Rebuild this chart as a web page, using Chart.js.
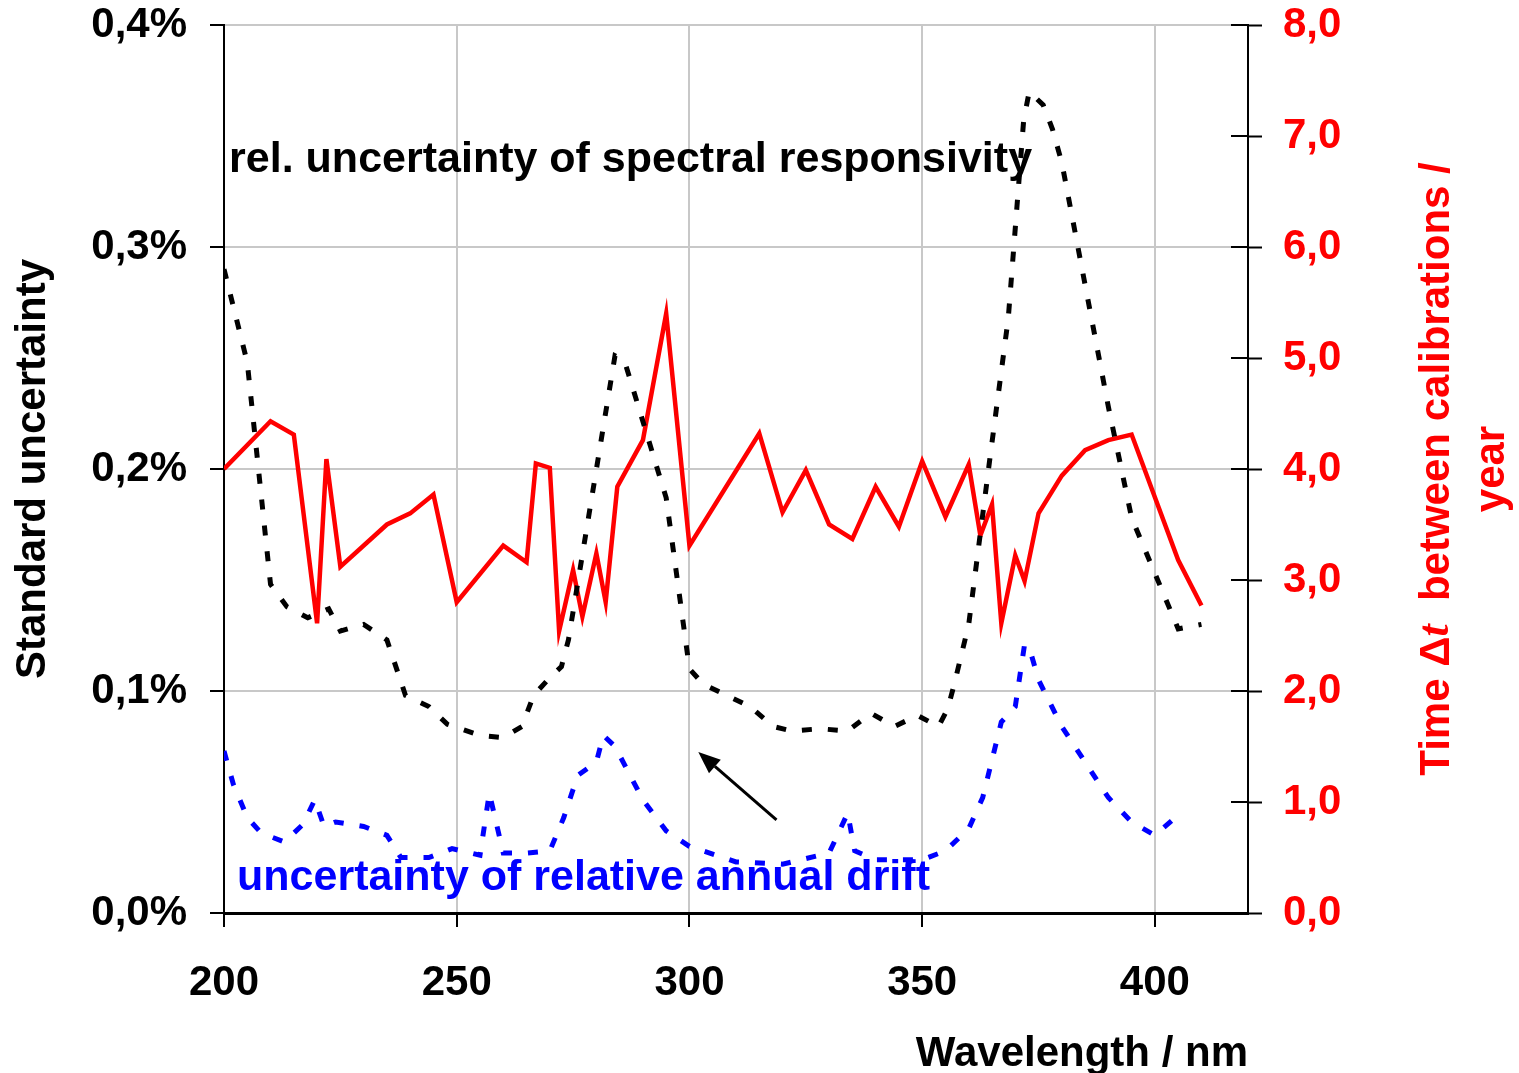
<!DOCTYPE html>
<html>
<head>
<meta charset="utf-8">
<script src="https://cdn.jsdelivr.net/npm/chart.js@4.4.0/dist/chart.umd.min.js"></script>
<style>
  html, body { margin: 0; padding: 0; background: #fff; }
  #wrap { width: 1519px; height: 1073px; }
</style>
</head>
<body>
<div id="wrap"><canvas id="chart" width="1519" height="1073"></canvas></div>
<script>
// rel. uncertainty of spectral responsivity (%)
const wlResp = [200, 205, 210, 213.5, 218, 222.5, 225, 230, 235, 239, 244, 248, 255, 260, 264, 266.5, 270, 272.5, 274,
    284, 286, 295, 300, 303, 308, 313, 318, 322, 328, 334, 339, 344, 349, 353.5, 355.5, 357, 360, 364.5, 368.5, 371.8,
    373, 376, 378, 380, 390, 395, 405, 410];
const respUnc = [0.290, 0.248, 0.148, 0.138, 0.133, 0.137, 0.127, 0.130, 0.123, 0.098, 0.093, 0.085, 0.080, 0.079, 0.084, 0.098, 0.106, 0.111, 0.123,
    0.251, 0.249, 0.187, 0.110, 0.103, 0.098, 0.093, 0.084, 0.082, 0.083, 0.082, 0.090, 0.084, 0.089, 0.084, 0.092, 0.104, 0.130, 0.204, 0.268, 0.357,
    0.370, 0.364, 0.353, 0.338, 0.228, 0.178, 0.128, 0.130];

// uncertainty of relative annual drift (%)
const wlDrift = [200, 202, 205, 208, 213, 217, 219.5, 221.5, 224, 230, 235, 238, 244, 249, 255, 257, 260, 265, 270, 273,
    276, 280, 281.5, 284, 290, 295, 300, 310, 320, 330, 334, 335.5, 340, 350, 355, 360, 363, 367, 370, 372, 373.5, 375,
    380, 390, 395, 400, 406];
const driftUnc = [0.073, 0.058, 0.043, 0.036, 0.032, 0.040, 0.051, 0.039, 0.041, 0.039, 0.035, 0.025, 0.025, 0.029, 0.026, 0.054, 0.027, 0.027, 0.028, 0.043,
    0.062, 0.068, 0.080, 0.075, 0.051, 0.037, 0.030, 0.023, 0.022, 0.027, 0.045, 0.028, 0.024, 0.024, 0.028, 0.038, 0.052, 0.086, 0.093, 0.121, 0.116, 0.105,
    0.084, 0.052, 0.041, 0.035, 0.046];

// time between calibrations (years)
const wlTime = [200, 210, 215, 220, 222, 225, 235, 240, 245, 250, 260, 265, 267, 270, 272, 275, 277, 280, 282, 284.5,
    290, 295, 300, 315, 320, 325, 330, 335, 340, 345, 350, 355, 360, 362.5, 365, 367, 370, 372, 375, 380, 385, 390, 395, 405, 410];
const timeYears = [4.00, 4.43, 4.31, 2.61, 4.09, 3.12, 3.50, 3.60, 3.77, 2.80, 3.31, 3.16, 4.05, 4.01, 2.54, 3.09, 2.67, 3.24, 2.80, 3.84,
    4.26, 5.40, 3.31, 4.32, 3.61, 3.99, 3.50, 3.37, 3.84, 3.48, 4.07, 3.57, 4.04, 3.40, 3.68, 2.61, 3.22, 2.99, 3.60, 3.94, 4.17, 4.26, 4.31, 3.18, 2.77];

const xTicks = [200, 250, 300, 350, 400];
const uncTicks = [0, 0.1, 0.2, 0.3, 0.4];
const timeTicks = [0, 1, 2, 3, 4, 5, 6, 7, 8];

const respLabel = 'rel. uncertainty of spectral responsivity';
const driftLabel = 'uncertainty of relative annual drift';

const FONT = '"Liberation Sans", Arial, sans-serif';
const RED = '#ff0000';
const BLUE = '#0000ff';

const toPoints = (xs, ys) => xs.map((x, i) => ({ x, y: ys[i] }));
const comma = (v, d) => v.toFixed(d).replace('.', ',');

const overlay = {
    id: 'overlay',
    beforeDraw(chart) {
        const { ctx } = chart;
        ctx.save();
        ctx.fillStyle = '#fff';
        ctx.fillRect(0, 0, chart.width, chart.height);
        ctx.restore();
    },
    afterDatasetsDraw(chart) {
        const { ctx, chartArea, scales } = chart;
        const x = scales.x, y = scales.y, y2 = scales.y2;
        ctx.save();

        // inner half of the right axis tick marks
        ctx.strokeStyle = '#000';
        ctx.lineWidth = 2;
        timeTicks.forEach(v => {
            const py = y2.getPixelForValue(v);
            ctx.beginPath();
            ctx.moveTo(chartArea.right - 17, py);
            ctx.lineTo(chartArea.right, py);
            ctx.stroke();
        });

        // curve labels
        ctx.font = 'bold 43px ' + FONT;
        ctx.textBaseline = 'middle';
        ctx.textAlign = 'left';
        ctx.fillStyle = '#000';
        ctx.fillText(respLabel, x.getPixelForValue(201.1), y.getPixelForValue(0.339));
        ctx.fillStyle = BLUE;
        ctx.fillText(driftLabel, x.getPixelForValue(202.8), y.getPixelForValue(0.0158));

        // arrow
        const x0 = x.getPixelForValue(318.7), y0 = y.getPixelForValue(0.0419);
        const x1 = x.getPixelForValue(301.9), y1 = y.getPixelForValue(0.0725);
        const ang = Math.atan2(y1 - y0, x1 - x0);
        const len = 22, half = 9;
        const bx = x1 - len * Math.cos(ang), by = y1 - len * Math.sin(ang);
        ctx.strokeStyle = '#000';
        ctx.lineWidth = 3;
        ctx.beginPath();
        ctx.moveTo(x0, y0);
        ctx.lineTo(bx, by);
        ctx.stroke();
        ctx.fillStyle = '#000';
        ctx.beginPath();
        ctx.moveTo(x1, y1);
        ctx.lineTo(bx + half * Math.sin(ang), by - half * Math.cos(ang));
        ctx.lineTo(bx - half * Math.sin(ang), by + half * Math.cos(ang));
        ctx.closePath();
        ctx.fill();

        ctx.restore();
    },
    afterDraw(chart) {
        // right axis title, rotated, with italic t
        const { ctx, chartArea } = chart;
        const cy = (chartArea.top + chartArea.bottom) / 2;
        const parts = [
            { t: 'Time \u0394', f: 'bold 42px ' + FONT },
            { t: 't', f: 'italic bold 44px "Liberation Serif", serif' },
            { t: '  between calibrations /', f: 'bold 42px ' + FONT }
        ];
        ctx.save();
        ctx.fillStyle = RED;
        ctx.textBaseline = 'middle';
        ctx.textAlign = 'left';
        let total = 0;
        parts.forEach(p => { ctx.font = p.f; p.w = ctx.measureText(p.t).width; total += p.w; });
        ctx.translate(chartArea.right + 189, cy);
        ctx.rotate(-Math.PI / 2);
        let px = -total / 2;
        parts.forEach(p => { ctx.font = p.f; ctx.fillText(p.t, px, 0); px += p.w; });
        ctx.restore();

        ctx.save();
        ctx.fillStyle = RED;
        ctx.font = 'bold 42px ' + FONT;
        ctx.textBaseline = 'middle';
        ctx.textAlign = 'center';
        ctx.translate(chartArea.right + 244, cy);
        ctx.rotate(-Math.PI / 2);
        ctx.fillText('year', 0, 0);
        ctx.restore();
    }
};

const noPad = s => { s.paddingTop = 0; s.paddingBottom = 0; };

new Chart(document.getElementById('chart'), {
    type: 'line',
    data: {
        datasets: [
            {
                label: respLabel,
                data: toPoints(wlResp, respUnc),
                yAxisID: 'y',
                borderColor: '#000',
                borderWidth: 5,
                borderDash: [10, 16],
                pointRadius: 0,
                tension: 0,
                fill: false
            },
            {
                label: driftLabel,
                data: toPoints(wlDrift, driftUnc),
                yAxisID: 'y',
                borderColor: BLUE,
                borderWidth: 5,
                borderDash: [10, 16],
                pointRadius: 0,
                tension: 0,
                fill: false
            },
            {
                label: 'Time between calibrations',
                data: toPoints(wlTime, timeYears),
                yAxisID: 'y2',
                borderColor: RED,
                borderWidth: 4.5,
                pointRadius: 0,
                tension: 0,
                fill: false
            }
        ]
    },
    options: {
        responsive: false,
        animation: false,
        layout: { padding: { top: 25, left: 0, right: 0, bottom: 0 } },
        plugins: {
            legend: { display: false },
            tooltip: { enabled: false }
        },
        scales: {
            x: {
                type: 'linear',
                min: 200,
                max: 420,
                afterBuildTicks: s => { s.ticks = xTicks.map(value => ({ value })); },
                afterFit: s => { s.height = 160; },
                grid: { color: '#c8c8c8', lineWidth: 2, tickColor: '#000', tickLength: 14, tickWidth: 2 },
                border: { color: '#000', width: 3 },
                ticks: {
                    color: '#000',
                    padding: 35,
                    maxRotation: 0,
                    font: { family: FONT, size: 42, weight: 'bold', lineHeight: 1 },
                    callback: v => String(v)
                },
                title: {
                    display: true,
                    text: 'Wavelength / nm',
                    align: 'end',
                    color: '#000',
                    padding: { top: 0, bottom: -2 },
                    font: { family: FONT, size: 42, weight: 'bold', lineHeight: 1 }
                }
            },
            y: {
                type: 'linear',
                position: 'left',
                min: 0,
                max: 0.4,
                afterBuildTicks: s => { s.ticks = uncTicks.map(value => ({ value })); },
                afterFit: s => { s.width = 224; noPad(s); },
                grid: { color: '#c8c8c8', lineWidth: 2, tickColor: '#000', tickLength: 14, tickWidth: 2 },
                border: { color: '#000', width: 2 },
                ticks: {
                    color: '#000',
                    padding: 23,
                    font: { family: FONT, size: 42, weight: 'bold', lineHeight: 1 },
                    callback: v => comma(v, 1) + '%'
                },
                title: {
                    display: true,
                    text: 'Standard uncertainty',
                    color: '#000',
                    padding: { top: 12, bottom: 0 },
                    font: { family: FONT, size: 42, weight: 'bold', lineHeight: 1 }
                }
            },
            y2: {
                type: 'linear',
                position: 'right',
                min: 0,
                max: 8,
                afterBuildTicks: s => { s.ticks = timeTicks.map(value => ({ value })); },
                afterFit: s => { s.width = 271; noPad(s); },
                grid: { drawOnChartArea: false, tickColor: '#000', tickLength: 14, tickWidth: 2 },
                border: { color: '#000', width: 2 },
                ticks: {
                    color: RED,
                    padding: 21,
                    font: { family: FONT, size: 42, weight: 'bold', lineHeight: 1 },
                    callback: v => comma(v, 1)
                }
            }
        }
    },
    plugins: [overlay]
});
</script>
</body>
</html>
